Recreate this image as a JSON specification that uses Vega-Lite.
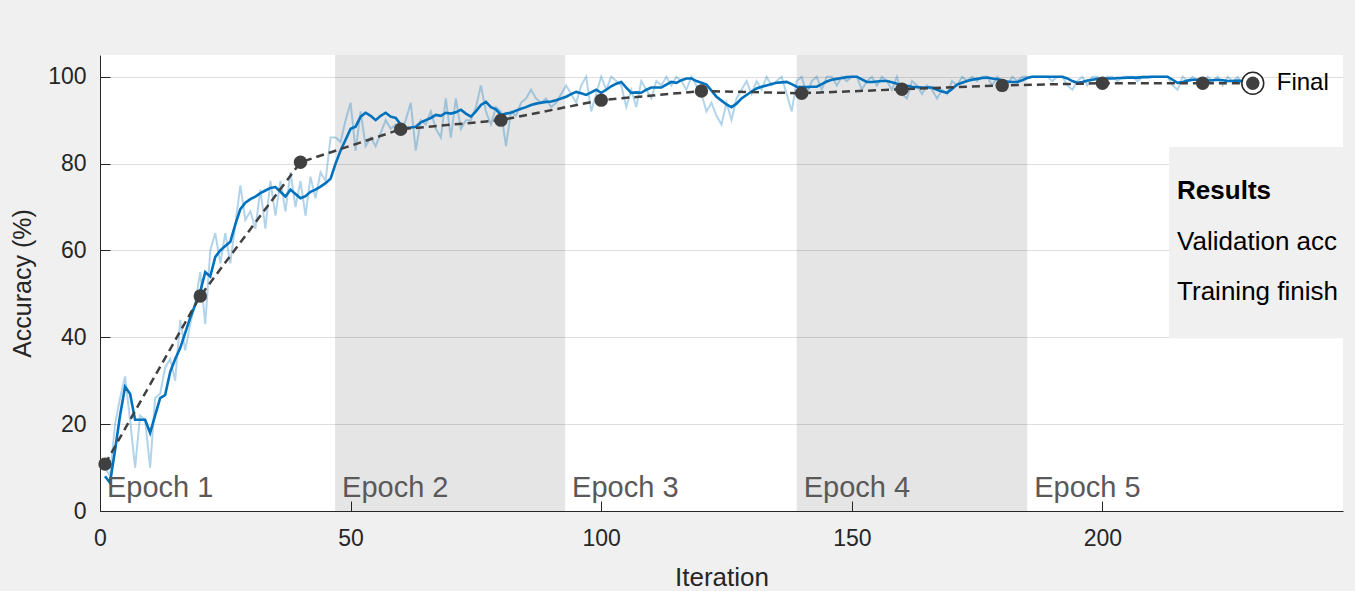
{
  "$schema": "https://vega.github.io/schema/vega-lite/v6.json",
  "autosize": {"type": "none"},
  "width": 1243,
  "height": 456,
  "padding": {"left": 100, "top": 55, "right": 12, "bottom": 80},
  "background": "#f0f0f0",
  "config": {
    "view": {"fill": "white", "stroke": null},
    "font": "Liberation Sans",
    "axis": {
      "labelFont": "Liberation Sans",
      "titleFont": "Liberation Sans",
      "labelColor": "#262626",
      "titleColor": "#262626",
      "domainColor": "#262626",
      "tickColor": "#262626",
      "titleFontWeight": "normal",
      "labelFlush": false
    }
  },
  "datasets": {
    "train": [
      {"iter":1,"raw":10,"sm":8},{"iter":2,"raw":8,"sm":6.5},{"iter":3,"raw":20,"sm":14},{"iter":4,"raw":26,"sm":22},{"iter":5,"raw":31,"sm":28.6},
      {"iter":6,"raw":21,"sm":27},{"iter":7,"raw":10,"sm":21},{"iter":8,"raw":22,"sm":21},{"iter":9,"raw":21,"sm":21},{"iter":10,"raw":10,"sm":18},
      {"iter":11,"raw":26,"sm":22},{"iter":12,"raw":27,"sm":26},{"iter":13,"raw":33,"sm":26.7},{"iter":14,"raw":35,"sm":32},{"iter":15,"raw":30,"sm":35},
      {"iter":16,"raw":44,"sm":37.5},{"iter":17,"raw":37,"sm":41},{"iter":18,"raw":43,"sm":44.5},{"iter":19,"raw":48,"sm":47.5},{"iter":20,"raw":55,"sm":50.5},
      {"iter":21,"raw":43,"sm":55},{"iter":22,"raw":60,"sm":54},{"iter":23,"raw":64,"sm":58.5},{"iter":24,"raw":57,"sm":60},{"iter":25,"raw":64,"sm":61},
      {"iter":26,"raw":57,"sm":62},{"iter":27,"raw":66,"sm":66},{"iter":28,"raw":75,"sm":69.5},{"iter":29,"raw":67,"sm":71},{"iter":30,"raw":69,"sm":71.8},
      {"iter":31,"raw":65,"sm":72.4},{"iter":32,"raw":74,"sm":73.2},{"iter":33,"raw":65,"sm":73.8},{"iter":34,"raw":76,"sm":74.4},{"iter":35,"raw":68,"sm":74.6},
      {"iter":36,"raw":76,"sm":73.5},{"iter":37,"raw":69,"sm":72.4},{"iter":38,"raw":78,"sm":74},{"iter":39,"raw":70,"sm":73},{"iter":40,"raw":76,"sm":72},
      {"iter":41,"raw":68,"sm":72.5},{"iter":42,"raw":77,"sm":73.5},{"iter":43,"raw":72,"sm":74},{"iter":44,"raw":78,"sm":74.7},{"iter":45,"raw":76,"sm":75.5},
      {"iter":46,"raw":86,"sm":76.5},{"iter":47,"raw":86,"sm":80},{"iter":48,"raw":85,"sm":83},{"iter":49,"raw":90,"sm":85.5},{"iter":50,"raw":94,"sm":88},
      {"iter":51,"raw":83,"sm":88.5},{"iter":52,"raw":92,"sm":90.8},{"iter":53,"raw":84,"sm":91.7},{"iter":54,"raw":86,"sm":91},{"iter":55,"raw":84,"sm":90},
      {"iter":56,"raw":87,"sm":91},{"iter":57,"raw":90,"sm":91.7},{"iter":58,"raw":88,"sm":90.8},{"iter":59,"raw":89,"sm":90.5},{"iter":60,"raw":87,"sm":89},
      {"iter":61,"raw":90,"sm":88.2},{"iter":62,"raw":94,"sm":88.3},{"iter":63,"raw":83,"sm":88.5},{"iter":64,"raw":90,"sm":89.5},{"iter":65,"raw":89,"sm":90},
      {"iter":66,"raw":92,"sm":90.5},{"iter":67,"raw":88,"sm":91.2},{"iter":68,"raw":86,"sm":91},{"iter":69,"raw":95,"sm":91.7},{"iter":70,"raw":86,"sm":91.5},
      {"iter":71,"raw":95,"sm":91.8},{"iter":72,"raw":88,"sm":92.4},{"iter":73,"raw":90,"sm":91.5},{"iter":74,"raw":90,"sm":90.8},{"iter":75,"raw":93,"sm":92},
      {"iter":76,"raw":98,"sm":93.5},{"iter":77,"raw":92,"sm":94.2},{"iter":78,"raw":89,"sm":93},{"iter":79,"raw":93,"sm":92.5},{"iter":80,"raw":92,"sm":91.2},
      {"iter":81,"raw":84,"sm":91.5},{"iter":82,"raw":92,"sm":91.7},{"iter":83,"raw":91,"sm":92.2},{"iter":84,"raw":94,"sm":92.6},{"iter":85,"raw":95,"sm":93},
      {"iter":86,"raw":97,"sm":93.5},{"iter":87,"raw":95,"sm":93.8},{"iter":88,"raw":94,"sm":94},{"iter":89,"raw":95,"sm":94.2},{"iter":90,"raw":93,"sm":94.3},
      {"iter":91,"raw":94,"sm":94.6},{"iter":92,"raw":96,"sm":95},{"iter":93,"raw":98,"sm":95.4},{"iter":94,"raw":96,"sm":96},{"iter":95,"raw":94,"sm":96.5},
      {"iter":96,"raw":98,"sm":96.2},{"iter":97,"raw":100,"sm":95.8},{"iter":98,"raw":92,"sm":96.4},{"iter":99,"raw":96,"sm":97},{"iter":100,"raw":100,"sm":96.3},
      {"iter":101,"raw":97,"sm":97},{"iter":102,"raw":100,"sm":97.8},{"iter":103,"raw":99,"sm":98.4},{"iter":104,"raw":98,"sm":98.8},{"iter":105,"raw":93,"sm":97.5},
      {"iter":106,"raw":97,"sm":96.3},{"iter":107,"raw":93,"sm":96.4},{"iter":108,"raw":99,"sm":96.3},{"iter":109,"raw":97,"sm":97},{"iter":110,"raw":95,"sm":97.5},
      {"iter":111,"raw":99,"sm":97.5},{"iter":112,"raw":98,"sm":97.5},{"iter":113,"raw":100,"sm":98.2},{"iter":114,"raw":98,"sm":98.8},{"iter":115,"raw":100,"sm":98.6},
      {"iter":116,"raw":99,"sm":99.2},{"iter":117,"raw":97,"sm":99.6},{"iter":118,"raw":100,"sm":99.6},{"iter":119,"raw":98,"sm":99},{"iter":120,"raw":96,"sm":98.6},
      {"iter":121,"raw":92,"sm":98.2},{"iter":122,"raw":94,"sm":96.8},{"iter":123,"raw":91,"sm":95.4},{"iter":124,"raw":89,"sm":94.5},{"iter":125,"raw":94,"sm":93.6},
      {"iter":126,"raw":90,"sm":93},{"iter":127,"raw":95,"sm":93.8},{"iter":128,"raw":97,"sm":95},{"iter":129,"raw":99,"sm":95.8},{"iter":130,"raw":96,"sm":96.6},
      {"iter":131,"raw":99,"sm":97.3},{"iter":132,"raw":97,"sm":97.7},{"iter":133,"raw":100,"sm":98},{"iter":134,"raw":98,"sm":98.3},{"iter":135,"raw":99,"sm":98.6},
      {"iter":136,"raw":100,"sm":98.7},{"iter":137,"raw":96,"sm":98.8},{"iter":138,"raw":92,"sm":98.3},{"iter":139,"raw":99,"sm":97.7},{"iter":140,"raw":100,"sm":97.6},
      {"iter":141,"raw":96,"sm":97.6},{"iter":142,"raw":99,"sm":97.7},{"iter":143,"raw":100,"sm":97.7},{"iter":144,"raw":97,"sm":98.3},{"iter":145,"raw":100,"sm":98.9},
      {"iter":146,"raw":100,"sm":99.3},{"iter":147,"raw":98,"sm":99.5},{"iter":148,"raw":100,"sm":99.7},{"iter":149,"raw":99,"sm":99.9},{"iter":150,"raw":100,"sm":100},
      {"iter":151,"raw":100,"sm":100},{"iter":152,"raw":97,"sm":99.4},{"iter":153,"raw":99,"sm":98.8},{"iter":154,"raw":100,"sm":98.8},{"iter":155,"raw":98,"sm":98.9},
      {"iter":156,"raw":100,"sm":99},{"iter":157,"raw":99,"sm":99},{"iter":158,"raw":97,"sm":98.7},{"iter":159,"raw":100,"sm":98.4},{"iter":160,"raw":96,"sm":98.2},
      {"iter":161,"raw":95,"sm":97.9},{"iter":162,"raw":99,"sm":97.7},{"iter":163,"raw":98,"sm":97.6},{"iter":164,"raw":96,"sm":97.5},{"iter":165,"raw":98,"sm":97.5},
      {"iter":166,"raw":97,"sm":97.5},{"iter":167,"raw":95,"sm":97},{"iter":168,"raw":97,"sm":96.6},{"iter":169,"raw":96,"sm":96.3},{"iter":170,"raw":99,"sm":97.2},
      {"iter":171,"raw":98,"sm":98.2},{"iter":172,"raw":100,"sm":98.6},{"iter":173,"raw":99,"sm":99},{"iter":174,"raw":100,"sm":99.3},{"iter":175,"raw":99,"sm":99.5},
      {"iter":176,"raw":100,"sm":99.7},{"iter":177,"raw":100,"sm":99.8},{"iter":178,"raw":98,"sm":99.6},{"iter":179,"raw":100,"sm":99.4},{"iter":180,"raw":99,"sm":99.2},
      {"iter":181,"raw":98,"sm":98.9},{"iter":182,"raw":100,"sm":98.8},{"iter":183,"raw":99,"sm":98.8},{"iter":184,"raw":100,"sm":99.2},{"iter":185,"raw":100,"sm":99.7},
      {"iter":186,"raw":100,"sm":100},{"iter":187,"raw":100,"sm":100},{"iter":188,"raw":100,"sm":100},{"iter":189,"raw":100,"sm":100},{"iter":190,"raw":99,"sm":100},
      {"iter":191,"raw":100,"sm":100},{"iter":192,"raw":100,"sm":100},{"iter":193,"raw":98,"sm":99.6},{"iter":194,"raw":97,"sm":99},{"iter":195,"raw":99,"sm":98.6},
      {"iter":196,"raw":100,"sm":98.8},{"iter":197,"raw":98,"sm":99.1},{"iter":198,"raw":100,"sm":99.3},{"iter":199,"raw":100,"sm":99.5},{"iter":200,"raw":99,"sm":99.5},
      {"iter":201,"raw":100,"sm":99.6},{"iter":202,"raw":100,"sm":99.6},{"iter":203,"raw":99,"sm":99.7},{"iter":204,"raw":100,"sm":99.7},{"iter":205,"raw":100,"sm":99.8},
      {"iter":206,"raw":100,"sm":99.8},{"iter":207,"raw":99,"sm":99.8},{"iter":208,"raw":100,"sm":99.9},{"iter":209,"raw":100,"sm":99.9},{"iter":210,"raw":100,"sm":100},
      {"iter":211,"raw":100,"sm":100},{"iter":212,"raw":100,"sm":100},{"iter":213,"raw":100,"sm":100},{"iter":214,"raw":98,"sm":99.3},{"iter":215,"raw":97,"sm":98.6},
      {"iter":216,"raw":100,"sm":98.8},{"iter":217,"raw":99,"sm":99.1},{"iter":218,"raw":100,"sm":99.3},{"iter":219,"raw":99,"sm":99.3},{"iter":220,"raw":98,"sm":99.2},
      {"iter":221,"raw":100,"sm":99.1},{"iter":222,"raw":99,"sm":99.2},{"iter":223,"raw":100,"sm":99.3},{"iter":224,"raw":98,"sm":99.2},{"iter":225,"raw":100,"sm":99},
      {"iter":226,"raw":99,"sm":99},{"iter":227,"raw":100,"sm":99.1},{"iter":228,"raw":98,"sm":99},{"iter":229,"raw":100,"sm":99},{"iter":230,"raw":99,"sm":99.2}
    ],
    "val": [
      {"iter":1,"acc":10.8},{"iter":20,"acc":49.5},{"iter":40,"acc":80.3},{"iter":60,"acc":87.9},{"iter":80,"acc":90},
      {"iter":100,"acc":94.6},{"iter":120,"acc":96.7},{"iter":140,"acc":96.2},{"iter":160,"acc":97.1},{"iter":180,"acc":98},
      {"iter":200,"acc":98.5},{"iter":220,"acc":98.5},{"iter":230,"acc":98.5}
    ],
    "epochs": [
      {"epoch":"Epoch 1","start":0,"end":46.9,"shade":false},
      {"epoch":"Epoch 2","start":46.9,"end":92.8,"shade":true},
      {"epoch":"Epoch 3","start":92.8,"end":139,"shade":false},
      {"epoch":"Epoch 4","start":139,"end":185,"shade":true},
      {"epoch":"Epoch 5","start":185,"end":230,"shade":false}
    ]
  },
  "encoding": {
    "x": {"type": "quantitative", "scale": {"domain": [0, 248], "nice": false, "zero": false}},
    "y": {"type": "quantitative", "scale": {"domain": [0, 105], "nice": false}}
  },
  "layer": [
    {
      "data": {"name": "epochs"},
      "transform": [{"filter": "datum.shade"}],
      "mark": {"type": "rect", "color": "#000000", "opacity": 0.1},
      "encoding": {
        "x": {"field": "start", "type": "quantitative",
          "axis": {"values": [0, 50, 100, 150, 200], "grid": false, "tickSize": -10, "labelFontSize": 23, "labelPadding": 26, "title": "Iteration", "titleFontSize": 26, "titlePadding": 14}},
        "x2": {"field": "end"}
      }
    },
    {
      "data": {"name": "train"},
      "mark": {"type": "line", "color": "#0072bd", "strokeOpacity": 0.3, "strokeWidth": 2},
      "encoding": {
        "x": {"field": "iter", "type": "quantitative"},
        "y": {"field": "raw", "type": "quantitative",
          "axis": {"values": [0, 20, 40, 60, 80, 100], "grid": true, "gridColor": "#dedede", "tickSize": -10, "labelFontSize": 23, "labelPadding": 24, "title": "Accuracy (%)", "titleFontSize": 25, "titlePadding": 12}}
      }
    },
    {
      "data": {"name": "train"},
      "mark": {"type": "line", "color": "#0072bd", "strokeWidth": 2.6},
      "encoding": {
        "x": {"field": "iter", "type": "quantitative"},
        "y": {"field": "sm", "type": "quantitative"}
      }
    },
    {
      "data": {"name": "val"},
      "mark": {"type": "line", "color": "#404040", "strokeWidth": 2.5, "strokeDash": [8, 5]},
      "encoding": {
        "x": {"field": "iter", "type": "quantitative"},
        "y": {"field": "acc", "type": "quantitative"}
      }
    },
    {
      "data": {"name": "val"},
      "transform": [{"filter": "datum.iter == 230"}],
      "mark": {"type": "point", "filled": false, "fill": "white", "fillOpacity": 1, "stroke": "#262626", "strokeWidth": 1.5, "size": 480, "opacity": 1},
      "encoding": {
        "x": {"field": "iter", "type": "quantitative"},
        "y": {"field": "acc", "type": "quantitative"}
      }
    },
    {
      "data": {"name": "val"},
      "mark": {"type": "circle", "color": "#404040", "size": 180, "opacity": 1},
      "encoding": {
        "x": {"field": "iter", "type": "quantitative"},
        "y": {"field": "acc", "type": "quantitative"}
      }
    },
    {
      "data": {"name": "val"},
      "transform": [{"filter": "datum.iter == 230"}],
      "mark": {"type": "text", "text": "Final", "align": "left", "baseline": "middle", "dx": 24, "fontSize": 24, "color": "#000000"},
      "encoding": {
        "x": {"field": "iter", "type": "quantitative"},
        "y": {"field": "acc", "type": "quantitative"}
      }
    },
    {
      "data": {"name": "epochs"},
      "mark": {"type": "text", "align": "left", "baseline": "alphabetic", "dx": 7, "fontSize": 29, "color": "#595959"},
      "encoding": {
        "x": {"field": "start", "type": "quantitative"},
        "y": {"datum": 3.2},
        "text": {"field": "epoch"}
      }
    },
    {
      "data": {"values": [{"box": "Results"}]},
      "mark": {"type": "rect", "color": "#f0f0f0", "clip": false},
      "encoding": {
        "x": {"datum": 213.3},
        "x2": {"datum": 262},
        "y": {"datum": 83.8},
        "y2": {"datum": 39.8}
      }
    },
    {
      "data": {"values": [{"line": "Results"}]},
      "mark": {"type": "text", "align": "left", "baseline": "middle", "dx": 8, "fontSize": 26, "fontWeight": "bold", "color": "#000000"},
      "encoding": {
        "x": {"datum": 213.3},
        "y": {"datum": 73.6},
        "text": {"field": "line"}
      }
    },
    {
      "data": {"values": [{"line": "Validation acc"}]},
      "mark": {"type": "text", "align": "left", "baseline": "middle", "dx": 8, "fontSize": 26, "color": "#000000"},
      "encoding": {
        "x": {"datum": 213.3},
        "y": {"datum": 61.9},
        "text": {"field": "line"}
      }
    },
    {
      "data": {"values": [{"line": "Training finish"}]},
      "mark": {"type": "text", "align": "left", "baseline": "middle", "dx": 8, "fontSize": 26, "color": "#000000"},
      "encoding": {
        "x": {"datum": 213.3},
        "y": {"datum": 50.4},
        "text": {"field": "line"}
      }
    }
  ]
}
